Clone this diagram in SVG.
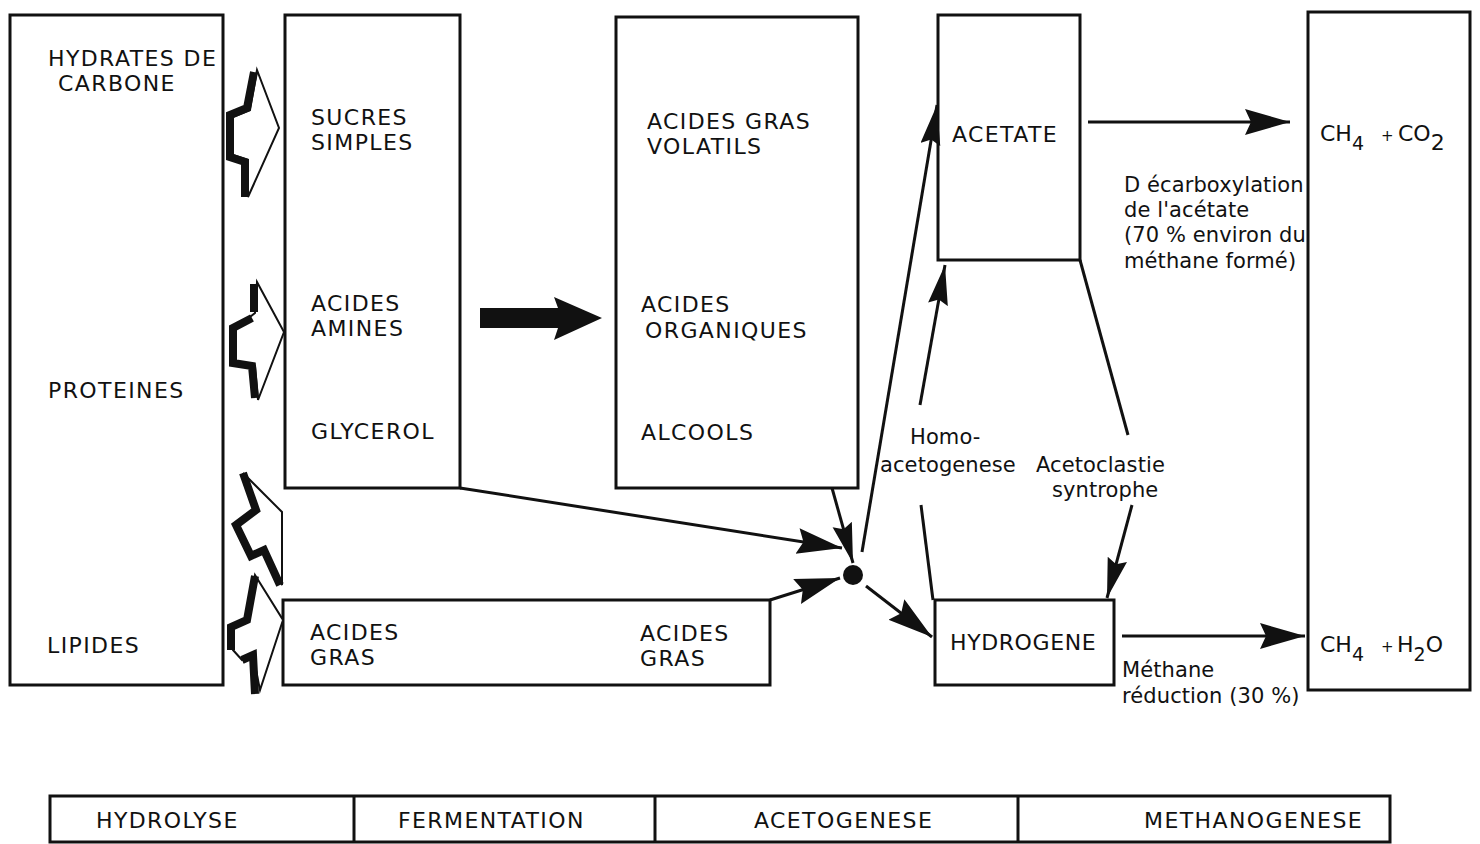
<svg xmlns="http://www.w3.org/2000/svg" width="1480" height="844" viewBox="0 0 1480 844">
<style>
.box{fill:none;stroke:#111;stroke-width:3}
.ln{fill:none;stroke:#111;stroke-width:3}
.t{font-family:"DejaVu Sans","Liberation Sans",sans-serif;font-size:21px;fill:#111}
.c{font-size:22px;letter-spacing:1.4px}
.l{letter-spacing:0.1px}
.f{font-size:22px}
.sub{font-size:19px}
.pl{font-size:15px}
.hol{fill:#fff;stroke:#111;stroke-width:2;stroke-linejoin:miter}
.blk{fill:none;stroke:#111;stroke-width:8;stroke-linejoin:miter}
</style>
<defs>
<marker id="ah" markerUnits="userSpaceOnUse" markerWidth="48" markerHeight="28" refX="45" refY="13" orient="auto">
<path d="M0,0 L45,13 L0,26 L6,13 Z" fill="#111"/>
</marker>
<marker id="as" markerUnits="userSpaceOnUse" markerWidth="42" markerHeight="22" refX="40" refY="10" orient="auto">
<path d="M0,0 L40,10 L0,20 L5,10 Z" fill="#111"/>
</marker>
</defs>
<rect width="1480" height="844" fill="#fff"/>

<g id="n-substrats">
<rect class="box" x="10" y="15" width="213" height="670"/>
<text class="t c" x="48" y="66">HYDRATES DE</text>
<text class="t c" x="58" y="91">CARBONE</text>
<text class="t c" x="48" y="398">PROTEINES</text>
<text class="t c" x="47" y="653">LIPIDES</text>
</g>

<g id="n-monomeres">
<rect class="box" x="285" y="15" width="175" height="473"/>
<text class="t c" x="311" y="125">SUCRES</text>
<text class="t c" x="311" y="150">SIMPLES</text>
<text class="t c" x="311" y="311">ACIDES</text>
<text class="t c" x="311" y="336">AMINES</text>
<text class="t c" x="311" y="439">GLYCEROL</text>
</g>

<g id="n-acides-gras">
<rect class="box" x="283" y="600" width="487" height="85"/>
<text class="t c" x="310" y="640">ACIDES</text>
<text class="t c" x="310" y="665">GRAS</text>
<text class="t c" x="640" y="641">ACIDES</text>
<text class="t c" x="640" y="666">GRAS</text>
</g>

<g id="n-agv">
<rect class="box" x="616" y="17" width="242" height="471"/>
<text class="t c" x="647" y="129">ACIDES GRAS</text>
<text class="t c" x="647" y="154">VOLATILS</text>
<text class="t c" x="641" y="312">ACIDES</text>
<text class="t c" x="645" y="338">ORGANIQUES</text>
<text class="t c" x="641" y="440">ALCOOLS</text>
</g>

<g id="n-acetate">
<rect class="box" x="938" y="15" width="142" height="245"/>
<text class="t c" x="952" y="142">ACETATE</text>
</g>

<g id="n-hydrogene">
<rect class="box" x="935" y="600" width="179" height="85"/>
<text class="t c" x="950" y="650" style="letter-spacing:0.6px">HYDROGENE</text>
</g>

<g id="n-produits">
<rect class="box" x="1308" y="12" width="162" height="678"/>
<text class="t f" x="1320" y="141">CH<tspan class="sub" dy="9">4</tspan><tspan class="pl" x="1381" dy="-9">+</tspan><tspan x="1398">CO</tspan><tspan dy="9">2</tspan></text>
<text class="t f" x="1320" y="652">CH<tspan class="sub" dy="9">4</tspan><tspan class="pl" x="1381" dy="-9">+</tspan><tspan x="1397">H</tspan><tspan class="sub" dy="9">2</tspan><tspan dy="-9">O</tspan></text>
</g>

<g id="n-junction">
<circle cx="853" cy="575" r="10" fill="#111"/>
</g>

<g id="n-hydrolyse-arrows">
<polygon class="hol" points="257,70 279,128 248,197 248,160 233,155 233,117 250,110"/>
<polyline class="blk" points="254,72 247,108 230,115 230,157 245,162 245,197"/>
<polygon class="hol" points="257,282 284,332 258,400 255,366 236,363 236,328 255,313"/>
<polyline class="blk" points="254,284 254,312"/>
<polyline class="blk" points="252,318 233,328 233,363 252,366 255,398"/>
<polygon class="hol" points="243,473 282,512 282,585 265,550 252,557 237,525 258,510"/>
<polyline class="blk" points="243,473 256,510 236,525 251,556 264,550 280,585"/>
<polygon class="hol" points="255,575 283,620 260,690 253,655 242,660 233,650 232,627 248,620"/>
<polyline class="blk" points="255,576 247,620 231,627 231,650"/>
<polyline class="blk" points="242,660 253,655 255,694"/>
</g>

<g id="connectors">
<line class="ln" x1="460" y1="488" x2="842" y2="548" marker-end="url(#ah)"/>
<line class="ln" x1="832" y1="488" x2="853" y2="563" marker-end="url(#as)"/>
<line class="ln" x1="770" y1="600" x2="840" y2="578" marker-end="url(#ah)"/>
<line class="ln" x1="866" y1="586" x2="932" y2="637" marker-end="url(#ah)"/>
<line class="ln" x1="862" y1="552" x2="937" y2="105" marker-end="url(#as)"/>
<line class="ln" x1="933" y1="600" x2="921" y2="505"/>
<line class="ln" x1="920" y1="405" x2="945" y2="265" marker-end="url(#as)"/>
<line class="ln" x1="1080" y1="260" x2="1128" y2="435"/>
<line class="ln" x1="1132" y1="505" x2="1107" y2="598" marker-end="url(#as)"/>
<line class="ln" x1="1088" y1="122" x2="1290" y2="122" marker-end="url(#ah)"/>
<line class="ln" x1="1122" y1="636" x2="1305" y2="636" marker-end="url(#ah)"/>
<polygon points="480,308 558,308 554,297 602,318 554,340 558,328 480,328" fill="#111"/>
</g>

<g id="labels">
<text class="t l" x="910" y="444">Homo-</text>
<text class="t l" x="880" y="472">acetogenese</text>
<text class="t l" x="1036" y="472">Acetoclastie</text>
<text class="t l" x="1052" y="497">syntrophe</text>
<text class="t l" x="1124" y="192">D écarboxylation</text>
<text class="t l" x="1124" y="217">de l'acétate</text>
<text class="t l" x="1124" y="242">(70 % environ du</text>
<text class="t l" x="1124" y="268">méthane formé)</text>
<text class="t l" x="1122" y="677">Méthane</text>
<text class="t l" x="1122" y="703">réduction (30 %)</text>
</g>

<g id="n-phases">
<rect class="box" x="50" y="796" width="1340" height="46"/>
<line class="ln" x1="354" y1="796" x2="354" y2="842"/>
<line class="ln" x1="655" y1="796" x2="655" y2="842"/>
<line class="ln" x1="1018" y1="796" x2="1018" y2="842"/>
<text class="t c" x="96" y="828">HYDROLYSE</text>
<text class="t c" x="398" y="828">FERMENTATION</text>
<text class="t c" x="754" y="828">ACETOGENESE</text>
<text class="t c" x="1144" y="828">METHANOGENESE</text>
</g>
</svg>
